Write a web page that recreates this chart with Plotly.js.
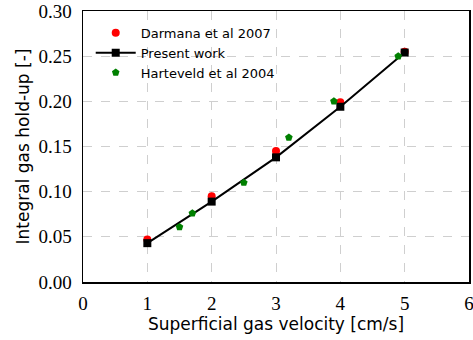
<!DOCTYPE html>
<html><head><meta charset="utf-8">
<script src="https://cdn.plot.ly/plotly-3.0.1.min.js"></script>
<style>body{margin:0;padding:0;background:#fff}#c{width:473px;height:340px}</style>
</head><body><div id="c"></div>
<script>
const darmanaX = [1, 2, 3, 4, 5];
const darmanaY = [0.047, 0.095, 0.145, 0.199, 0.255];
const presentX = [1, 2, 3, 4, 5];
const presentY = [0.043, 0.089, 0.138, 0.194, 0.254];
const harteveldX = [1.5, 1.7, 2.5, 3.2, 3.9, 4.9];
const harteveldY = [0.061, 0.076, 0.110, 0.160, 0.200, 0.250];
const xTicks = [0, 1, 2, 3, 4, 5, 6];
const yTicks = [0, 0.05, 0.10, 0.15, 0.20, 0.25, 0.30];

const traces = [
  {x: darmanaX, y: darmanaY, name: 'Darmana et al 2007', mode: 'markers', type: 'scatter',
   marker: {color: '#ff0000', size: 8, symbol: 'circle'}},
  {x: presentX, y: presentY, name: 'Present work', mode: 'lines+markers', type: 'scatter',
   line: {color: '#000', width: 2}, marker: {color: '#000', size: 8, symbol: 'square'}},
  {x: harteveldX, y: harteveldY, name: 'Harteveld et al 2004', mode: 'markers', type: 'scatter',
   marker: {color: '#008000', size: 8, symbol: 'pentagon'}}
];
const serif = {family: 'Liberation Serif, DejaVu Serif, serif', size: 19, color: '#000'};
const sans = {family: 'DejaVu Sans, sans-serif', size: 17, color: '#000'};
const layout = {
  width: 473, height: 340,
  margin: {l: 83, r: 4, t: 11, b: 58},
  paper_bgcolor: '#fff', plot_bgcolor: '#fff',
  showlegend: true,
  legend: {x: 0.02, y: 0.975, xanchor: 'left', yanchor: 'top', bgcolor: 'rgba(255,255,255,0)',
    font: {family: 'DejaVu Sans, sans-serif', size: 13, color: '#000'}, tracegroupgap: 0, itemwidth: 40},
  xaxis: {range: [0, 6], tickvals: xTicks, ticktext: xTicks.map(v => String(v)),
    tickfont: serif, showline: true, mirror: true, linecolor: '#000', linewidth: 1.5,
    showgrid: true, gridcolor: '#cfcfcf', griddash: 'dash', gridwidth: 1, zeroline: false,
    ticks: 'outside', ticklen: 4, tickcolor: 'rgba(0,0,0,0)', ticklabeloverflow: 'allow',
    title: {text: 'Superficial gas velocity [cm/s]', font: sans, standoff: 4}},
  yaxis: {range: [0, 0.30], tickvals: yTicks, ticktext: yTicks.map(v => v.toFixed(2)),
    tickfont: serif, showline: true, mirror: true, linecolor: '#000', linewidth: 1.5,
    showgrid: true, gridcolor: '#cfcfcf', griddash: 'dash', gridwidth: 1, zeroline: false,
    ticks: 'outside', ticklen: 6, tickcolor: 'rgba(0,0,0,0)', ticklabeloverflow: 'allow',
    title: {text: 'Integral gas hold-up [-]', font: sans, standoff: 4}}
};
Plotly.newPlot('c', traces, layout, {staticPlot: true, displayModeBar: false});
</script></body></html>
